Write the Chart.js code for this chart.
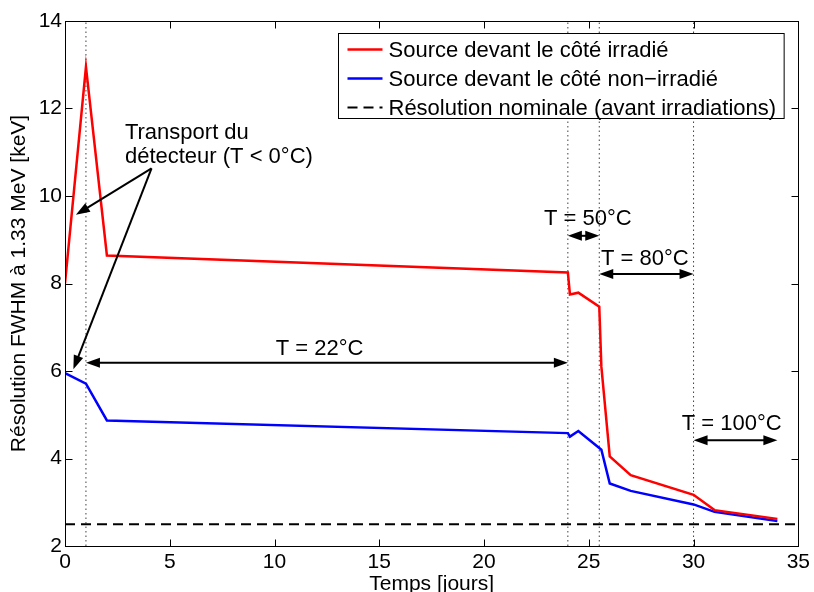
<!DOCTYPE html>
<html>
<head>
<meta charset="utf-8">
<script src="https://cdn.jsdelivr.net/npm/chart.js@4.4.1/dist/chart.umd.min.js"></script>
<style>
  html, body { margin: 0; padding: 0; background: #fff; }
  #wrap { width: 814px; height: 592px; }
</style>
</head>
<body>
<div id="wrap"><canvas id="fwhmChart" width="814" height="592"></canvas></div>
<script>
// temps en jours
const daysRed = [0, 1, 2, 24, 24.1, 24.5, 25.5, 25.6, 26, 27, 30, 31, 34];
const fwhmRed = [8.0, 12.95, 8.64, 8.25, 7.75, 7.79, 7.47, 6.1, 4.05, 3.62, 3.17, 2.82, 2.62];
const daysBlue = [0, 1, 2, 24, 24.1, 24.5, 25.5, 25.6, 26, 27, 30, 31, 34];
const fwhmBlue = [5.95, 5.71, 4.87, 4.58, 4.5, 4.63, 4.24, 4.2, 3.43, 3.26, 2.95, 2.78, 2.57];
const nominal = 2.5;
const phaseDays = [1, 24, 25.5, 30];
const xRange = [0, 35];
const yRange = [2, 14];

const seriesLabels = [
  'Source devant le côté irradié',
  'Source devant le côté non\u2212irradié',
  'Résolution nominale (avant irradiations)'
];

// paliers de température : [début, fin, hauteur, x texte, y texte, texte]
const tempSpans = [
  [1, 24, 6.19, 12.15, 6.37, 'T = 22°C'],
  [24, 25.5, 9.09, 24.95, 9.34, 'T = 50°C'],
  [25.5, 30, 8.22, 27.67, 8.42, 'T = 80°C'],
  [30, 34, 4.42, 31.82, 4.65, 'T = 100°C']
];
const transportFrom = [4.13, 10.63];
const transportTo = [[0.52, 9.57], [0.4, 6.04]];
const transportText = ['Transport du', 'détecteur (T < 0°C)'];
const transportTextPos = [2.86, 11.3, 10.75];

const FONT = "'Liberation Sans', Arial, Helvetica, sans-serif";
Chart.defaults.font.family = FONT;
Chart.defaults.color = '#000';

const toXY = (xs, ys) => xs.map((v, i) => ({ x: v, y: ys[i] }));

const phaseSets = phaseDays.map(d => ({
  data: [{ x: d, y: yRange[0] }, { x: d, y: yRange[1] }],
  borderColor: 'rgba(0,0,0,0.75)',
  borderWidth: 1,
  borderDash: [1.5, 3],
  pointRadius: 0,
  showLine: true,
  order: 10
}));

function drawArrowHead(ctx, x1, y1, x2, y2) {
  const ang = Math.atan2(y2 - y1, x2 - x1);
  const len = 14, half = 5;
  ctx.beginPath();
  ctx.moveTo(x2, y2);
  ctx.lineTo(x2 - len * Math.cos(ang) + half * Math.sin(ang), y2 - len * Math.sin(ang) - half * Math.cos(ang));
  ctx.lineTo(x2 - len * Math.cos(ang) - half * Math.sin(ang), y2 - len * Math.sin(ang) + half * Math.cos(ang));
  ctx.closePath();
  ctx.fill();
}

function drawArrow(ctx, x1, y1, x2, y2, both) {
  const ang = Math.atan2(y2 - y1, x2 - x1);
  const trim = 8;
  ctx.beginPath();
  ctx.moveTo(both ? x1 + trim * Math.cos(ang) : x1, both ? y1 + trim * Math.sin(ang) : y1);
  ctx.lineTo(x2 - trim * Math.cos(ang), y2 - trim * Math.sin(ang));
  ctx.stroke();
  drawArrowHead(ctx, x1, y1, x2, y2);
  if (both) drawArrowHead(ctx, x2, y2, x1, y1);
}

const overlay = {
  id: 'overlay',
  afterDraw(chart) {
    const { ctx, chartArea: a, scales: { x, y } } = chart;
    ctx.save();

    // cadre + graduations vers l'intérieur
    ctx.strokeStyle = '#000';
    ctx.lineWidth = 1;
    const L = Math.round(a.left) + 0.5, R = Math.round(a.right) + 0.5;
    const T = Math.round(a.top) + 0.5, B = Math.round(a.bottom) + 0.5;
    ctx.strokeRect(L, T, R - L, B - T);
    ctx.beginPath();
    x.ticks.forEach(t => {
      const px = Math.round(x.getPixelForValue(t.value)) + 0.5;
      ctx.moveTo(px, B); ctx.lineTo(px, B - 7);
      ctx.moveTo(px, T); ctx.lineTo(px, T + 7);
    });
    y.ticks.forEach(t => {
      const py = Math.round(y.getPixelForValue(t.value)) + 0.5;
      ctx.moveTo(L, py); ctx.lineTo(L + 7, py);
      ctx.moveTo(R, py); ctx.lineTo(R - 7, py);
    });
    ctx.stroke();

    // flèches et textes
    ctx.fillStyle = '#000';
    ctx.strokeStyle = '#000';
    ctx.lineWidth = 2;
    ctx.font = '22px ' + FONT;
    ctx.textBaseline = 'alphabetic';
    tempSpans.forEach(([d0, d1, h, tx, ty, txt]) => {
      const py = y.getPixelForValue(h);
      drawArrow(ctx, x.getPixelForValue(d0), py, x.getPixelForValue(d1), py, true);
      ctx.textAlign = 'center';
      ctx.fillText(txt, x.getPixelForValue(tx), y.getPixelForValue(ty));
    });
    const fx = x.getPixelForValue(transportFrom[0]), fy = y.getPixelForValue(transportFrom[1]);
    transportTo.forEach(([tx, ty]) => {
      drawArrow(ctx, fx, fy, x.getPixelForValue(tx), y.getPixelForValue(ty), false);
    });
    ctx.textAlign = 'left';
    ctx.fillText(transportText[0], x.getPixelForValue(transportTextPos[0]), y.getPixelForValue(transportTextPos[1]));
    ctx.fillText(transportText[1], x.getPixelForValue(transportTextPos[0]), y.getPixelForValue(transportTextPos[2]));

    // légende
    const sets = chart.data.datasets.slice(0, 3);
    const textW = Math.max(...seriesLabels.map(s => ctx.measureText(s).width));
    const boxR = a.right - 15, boxT = a.top + 12;
    const boxW = 50 + textW + 8, boxH = 85;
    const boxL = Math.round(boxR - boxW) + 0.5;
    ctx.fillStyle = '#fff';
    ctx.fillRect(boxL, boxT + 0.5, boxW, boxH);
    ctx.lineWidth = 1;
    ctx.strokeStyle = '#000';
    ctx.strokeRect(boxL, boxT + 0.5, boxW, boxH);
    ctx.textBaseline = 'middle';
    sets.forEach((ds, i) => {
      const ry = boxT + 16.5 + i * 29;
      ctx.strokeStyle = ds.borderColor;
      ctx.lineWidth = ds.borderWidth;
      ctx.setLineDash(ds.borderDash || []);
      ctx.beginPath();
      ctx.moveTo(boxL + 9, ry);
      ctx.lineTo(boxL + 44, ry);
      ctx.stroke();
      ctx.setLineDash([]);
      ctx.fillStyle = '#000';
      ctx.fillText(seriesLabels[i], boxL + 50, ry + 1);
    });
    ctx.restore();
  }
};

new Chart(document.getElementById('fwhmChart'), {
  type: 'scatter',
  data: {
    datasets: [
      {
        label: seriesLabels[0],
        data: toXY(daysRed, fwhmRed),
        borderColor: '#ff0000',
        borderWidth: 2.5,
        showLine: true,
        pointRadius: 0,
        order: 1
      },
      {
        label: seriesLabels[1],
        data: toXY(daysBlue, fwhmBlue),
        borderColor: '#0000ff',
        borderWidth: 2.5,
        showLine: true,
        pointRadius: 0,
        order: 2
      },
      {
        label: seriesLabels[2],
        data: [{ x: xRange[0], y: nominal }, { x: xRange[1], y: nominal }],
        borderColor: '#000',
        borderWidth: 2,
        borderDash: [10, 6],
        showLine: true,
        pointRadius: 0,
        order: 5
      },
      ...phaseSets
    ]
  },
  options: {
    responsive: false,
    animation: false,
    devicePixelRatio: 1,
    layout: { padding: { top: 21, right: 14, left: 0, bottom: 0 } },
    plugins: {
      legend: { display: false },
      tooltip: { enabled: false }
    },
    elements: { line: { tension: 0 } },
    scales: {
      x: {
        type: 'linear',
        min: xRange[0],
        max: xRange[1],
        grid: { display: false, drawTicks: false },
        border: { display: false },
        ticks: { stepSize: 5, font: { size: 21 }, color: '#000', padding: 4, maxRotation: 0 },
        title: {
          display: true,
          text: 'Temps [jours]',
          font: { size: 21, lineHeight: 1 },
          color: '#000',
          padding: { top: 0, bottom: -3 }
        },
        afterFit(scale) { scale.height = 46; }
      },
      y: {
        min: yRange[0],
        max: yRange[1],
        grid: { display: false, drawTicks: false },
        border: { display: false },
        ticks: { stepSize: 2, font: { size: 21 }, color: '#000', padding: 3 },
        title: {
          display: true,
          text: 'Résolution FWHM à 1.33 MeV [keV]',
          font: { size: 21, lineHeight: 1 },
          color: '#000',
          padding: { top: 9, bottom: 0 }
        },
        afterFit(scale) { scale.width = 65; }
      }
    }
  },
  plugins: [overlay]
});
</script>
</body>
</html>
